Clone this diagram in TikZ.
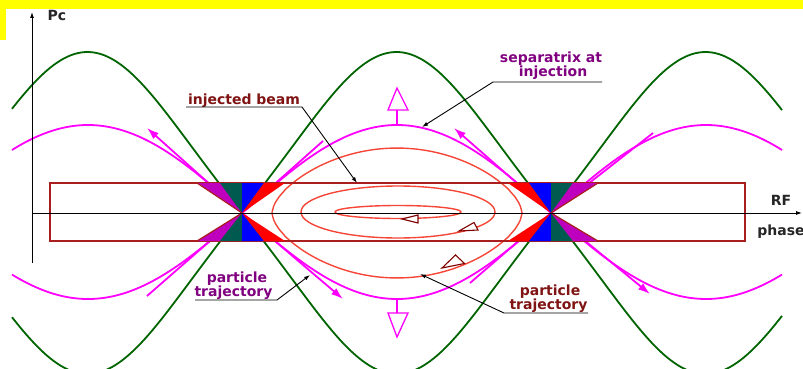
\documentclass[tikz,border=0pt]{standalone}
\usepackage{fontspec}
\setmainfont{DejaVu Sans}
\usetikzlibrary{arrows.meta}
\definecolor{yellowband}{RGB}{255,255,0}
\definecolor{sgreen}{RGB}{0,100,0}
\definecolor{mag}{RGB}{255,0,255}
\definecolor{beamred}{RGB}{245,70,55}
\definecolor{boxred}{RGB}{170,30,30}
\definecolor{fpurple}{RGB}{190,0,190}
\definecolor{fteal}{RGB}{0,90,80}
\definecolor{fblue}{RGB}{0,0,255}
\definecolor{fred}{RGB}{255,0,0}
\definecolor{tpurple}{RGB}{128,0,128}
\definecolor{tred}{RGB}{128,20,20}
\definecolor{dred}{RGB}{128,0,0}
\begin{document}
\begin{tikzpicture}[x=1pt,y=-1pt,
  lbl/.style={font=\fontsize{14}{13}\selectfont\bfseries, inner sep=0pt, anchor=base},
  ptr/.style={black, line width=0.9pt, -{Latex[length=6pt,width=4pt]}},
  magline/.style={mag, line width=1.8pt},
  magarrow/.style={mag, line width=1.8pt, -{Latex[length=12pt,width=8pt]}},
  greencurve/.style={sgreen, line width=1.8pt},
  beam/.style={beamred, line width=1.4pt},
  orbarrow/.style={dred, line width=1.1pt, fill=white, line join=miter},
  openarrow/.style={mag, line width=1.3pt}]
\useasboundingbox (0,0) rectangle (803,369);
\fill[white] (0,0) rectangle (803,369);
% yellow band
\fill[yellowband] (0,0) rectangle (803,9);
\fill[yellowband] (0,0) rectangle (6,40);

\begin{scope}
\clip (0,9) rectangle (803,369);
% green curves
\draw[greencurve] plot[domain=12:782, samples=160, smooth] (\x,{213+152.6*(sin((\x-242)/618*360)-0.055*sin((\x-242)/618*1080))});
\draw[greencurve] plot[domain=12:782, samples=160, smooth] (\x,{213-152.6*(sin((\x-242)/618*360)-0.055*sin((\x-242)/618*1080))});
% magenta separatrix
\foreach \a/\b in {12/242,242/551,551/782}{
  \draw[magline] plot[domain=\a:\b, samples=60, smooth] (\x,{213-88*abs(cos((\x-397)/309*180))});
  \draw[magline] plot[domain=\a:\b, samples=60, smooth] (\x,{213+86*abs(cos((\x-397)/309*180))});
}
\end{scope}

\coordinate (X1) at (242,213);
\coordinate (X2) at (551,213);
% magenta tangent lines
\coordinate (m1a) at (147,128);
\coordinate (m1b) at (147,296);
\coordinate (m1c) at (323,141);
\coordinate (m1d) at (343,299);
\coordinate (m2a) at (454,128);
\coordinate (m2b) at (470,283);
\coordinate (m2c) at (653,133);
\coordinate (m2d) at (650,294);
\draw[magarrow] (X1) -- (m1a);
\draw[magline] (X1) -- (m1b);
\draw[magline] (X1) -- (m1c);
\draw[magarrow] (X1) -- (m1d);
\draw[magarrow] (X2) -- (m2a);
\draw[magline] (X2) -- (m2b);
\draw[magline] (X2) -- (m2c);
\draw[magarrow] (X2) -- (m2d);

% open magenta arrows up/down
\draw[openarrow] (397,124) -- (397,110);
\draw[openarrow] (388,110) -- (408,110) -- (397,88) -- cycle;
\draw[openarrow] (397,298) -- (397,313);
\draw[openarrow] (388,313) -- (408,313) -- (397,337) -- cycle;

% injected beam orbits
\draw[beam] plot[domain=272:522, samples=150] (\x,{213-80.1*pow(max(cos((\x-397)/309*180)-0.2952,0.00001),0.6)})
  -- plot[domain=522:272, samples=150] (\x,{213+80.1*pow(max(cos((\x-397)/309*180)-0.2952,0.00001),0.6)}) -- cycle;
\draw[beam] (398,212) ellipse [x radius=97pt, y radius=26pt];
\draw[beam] (398,212) ellipse [x radius=63pt, y radius=6.5pt];
% orbit direction triangles
\draw[orbarrow] (402,219) -- (418,215) -- (418,223) -- cycle;
\draw[orbarrow] (459,231) -- (474,222.5) -- (478,230) -- cycle;
\draw[orbarrow] (442,268) -- (455.5,255) -- (464.5,263.5) -- cycle;

% rectangle (injected beam)
\draw[boxred, line width=1.6pt] (50,183) rectangle (745,241);

% coloured wedges at the X points
\foreach \s in {183,241}{
  \fill[fpurple] (197,\s) -- (220,\s) -- (X1) -- cycle;
  \fill[fteal] (220,\s) -- (242,\s) -- (X1) -- cycle;
  \fill[fblue] (242,\s) -- (264,\s) -- (X1) -- cycle;
  \fill[fred] (264,\s) -- (285,\s) -- (X1) -- cycle;
  \fill[fred] (508,\s) -- (529,\s) -- (X2) -- cycle;
  \fill[fblue] (529,\s) -- (551,\s) -- (X2) -- cycle;
  \fill[fteal] (551,\s) -- (573,\s) -- (X2) -- cycle;
  \fill[fpurple] (573,\s) -- (598,\s) -- (X2) -- cycle;
}
\draw[boxred, line width=1.2pt] (197,183) -- (X1) -- (197,241);
\draw[boxred, line width=1.2pt] (598,183) -- (X2) -- (598,241);

% axes
\draw[black, line width=0.9pt, -{Latex[length=6pt,width=4pt]}] (32,263) -- (32,12);
\draw[black, line width=0.9pt, -{Latex[length=6pt,width=4pt]}] (32,213) -- (802,213);

% labels
\node[lbl, text=black!85] (pc) at (57,21) {Pc};
\node[lbl, text=black!85] (rf) at (781,205) {RF};
\node[lbl, text=black!85] (ph) at (781,235) {phase};
\node[lbl, text=tred] (ib) at (244,104) {injected beam};
\node[lbl, text=tpurple] (sep1) at (551,63) {separatrix at};
\node[lbl, text=tpurple] (sep2) at (553,77) {injection};
\node[lbl, text=tpurple] (lp1) at (237,282) {particle};
\node[lbl, text=tpurple] (lp2) at (233.5,296) {trajectory};
\node[lbl, text=tred] (rp1) at (550,295) {particle};
\node[lbl, text=tred] (rp2) at (548.5,309) {trajectory};

% pointers
\coordinate (ibU) at (186,107);
\coordinate (ibK) at (302,107);
\coordinate (ibT) at (357,183);
\draw[ptr] (ibU) -- (ibK) -- (ibT);
\coordinate (spE) at (602,82);
\coordinate (spK) at (493,82);
\coordinate (spT) at (422,127);
\draw[ptr] (spE) -- (spK) -- (spT);
\coordinate (lpU) at (195,300);
\coordinate (lpK) at (277,300);
\coordinate (lpT) at (310,275);
\draw[ptr] (lpU) -- (lpK) -- (lpT);
\coordinate (rpE) at (588,313);
\coordinate (rpK) at (504,313);
\coordinate (rpT) at (420,274);
\draw[ptr] (rpE) -- (rpK) -- (rpT);
\end{tikzpicture}
\end{document}
